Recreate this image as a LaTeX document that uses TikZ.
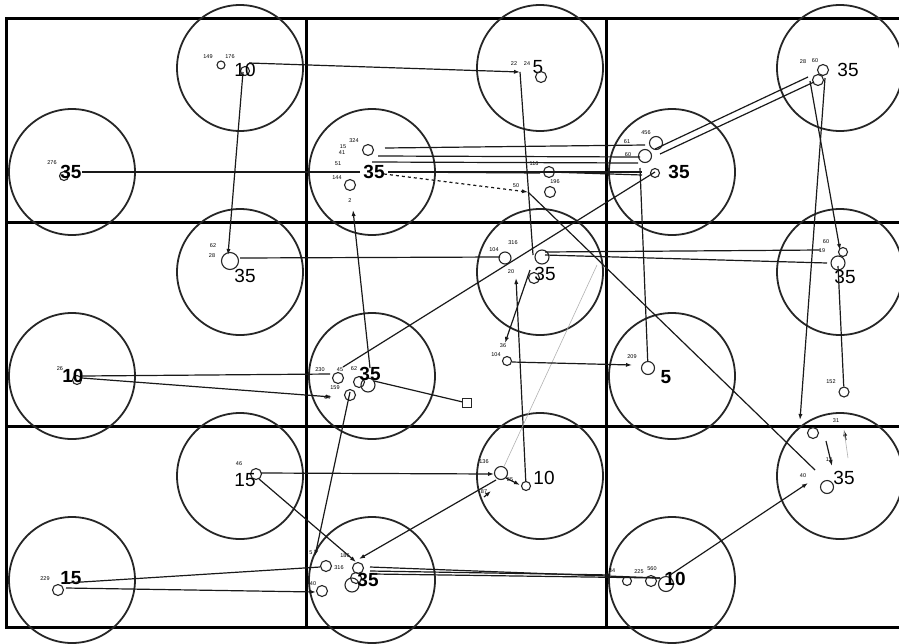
\documentclass[tikz,border=0pt]{standalone}
\usepackage{fontspec}
\setmainfont{Liberation Sans}
\usetikzlibrary{arrows.meta}
\begin{document}
\begin{tikzpicture}[x=1pt,y=-1pt,
  gridline/.style={line width=3pt},
  bigc/.style={circle,draw=black!85,line width=1.8pt,minimum size=126pt,inner sep=0pt},
  sc/.style={circle,draw=black!85,line width=1.1pt,minimum size=#1,inner sep=0pt},
  sc/.default=11pt,
  sq/.style={rectangle,draw=black!85,line width=1.1pt,minimum size=9pt,inner sep=0pt},
  lab/.style={font=\fontsize{19}{19}\selectfont,inner sep=0pt},
  blab/.style={font=\fontsize{19}{19}\selectfont\bfseries,inner sep=0pt},
  tiny/.style={font=\fontsize{5.5}{5.5}\selectfont,inner sep=0pt},
  conn/.style={line width=1.2pt,draw=black!90},
  arr/.style={conn,-{Latex[length=6pt,width=4.2pt]}},
  faint/.style={line width=0.6pt,draw=black!30}]
\useasboundingbox (0,0) rectangle (899,643);
\fill[white] (0,0) rectangle (899,643);

% grid
\draw[gridline] (906,18) -- (6,18) -- (6,627) -- (906,627);
\draw[gridline] (306,18) -- (306,627);
\draw[gridline] (606,18) -- (606,627);
\draw[gridline] (6,222) -- (906,222);
\draw[gridline] (6,426) -- (906,426);

% big circles
\foreach \c/\xx in {0/6,1/306,2/606}{
  \foreach \r/\yy in {0/18,1/222,2/426}{
    \node[bigc] (U\c\r) at (\xx+234,\yy+50) {};
    \node[bigc] (L\c\r) at (\xx+66,\yy+154) {};
  }
}

% ---------- cell (0,0)
\node[sc=8pt] (s00a) at (221,65) {};
\node[sc=9pt] (s00b) at (245,71) {};
\node[lab] (t00u) at (245,70) {10};
\node[tiny] (n00a) at (208,57) {149};
\node[tiny] (n00b) at (230,57) {176};
\coordinate (p00u) at (249,63);
\coordinate (p00d) at (243,72);
\node[sc=9pt] (s00c) at (64,176) {};
\node[blab] (t00l) at (71,172) {35};
\node[tiny] (n00c) at (52,163) {276};
\coordinate (p00l) at (82,172);

% ---------- cell (1,0)
\node[tiny] (n10a) at (514,64) {22};
\node[tiny] (n10b) at (527,64) {24};
\node[lab] (t10u) at (538,67) {5};
\node[sc=11pt] (s10a) at (541,77) {};
\coordinate (p10u) at (520,72);
\node[tiny] (n10c) at (354,141) {324};
\node[tiny] (n10d) at (343,147) {15};
\node[tiny] (n10e) at (342,153) {41};
\node[tiny] (n10f) at (338,164) {51};
\node[tiny] (n10g) at (337,178) {144};
\node[sc=11pt] (s10b) at (368,150) {};
\node[sc=11pt] (s10c) at (350,185) {};
\node[blab] (t10l) at (374,172) {35};
\coordinate (p10a) at (385,148);
\coordinate (p10b) at (378,156);
\coordinate (p10c) at (372,162);
\coordinate (p10d) at (388,172);
\coordinate (p10e) at (384,174);
\coordinate (p10l) at (360,172);
\node[tiny] (n10h) at (534,164) {116};
\coordinate (a116) at (540,173);
\node[sc=11pt] (s10d) at (549,172) {};
\node[tiny] (n10i) at (555,182) {196};
\node[sc=11pt] (s10e) at (550,192) {};
\node[tiny] (n10j) at (516,186) {50};
\coordinate (a50) at (528,192);
\node[tiny] (n10k) at (350,201) {2};
\coordinate (a2) at (353,210);

% ---------- cell (2,0)
\node[tiny] (n20a) at (803,62) {28};
\node[tiny] (n20b) at (815,61) {60};
\node[sc=11pt] (s20a) at (823,70) {};
\node[sc=11pt] (s20b) at (818,80) {};
\node[lab] (t20u) at (848,70) {35};
\coordinate (p20a) at (808,77);
\coordinate (p20b) at (814,82);
\coordinate (p20c) at (825,78);
\coordinate (p20d) at (810,81);
\node[tiny] (n20c) at (646,133) {456};
\node[tiny] (n20d) at (627,142) {61};
\node[tiny] (n20e) at (628,155) {60};
\node[sc=13pt] (s20c) at (656,143) {};
\node[sc=13pt] (s20d) at (645,156) {};
\node[sc=9pt] (s20e) at (655,173) {};
\node[blab] (t20l) at (679,172) {35};
\coordinate (p20e) at (645,145);
\coordinate (p20f) at (640,157);
\coordinate (p20g) at (638,163);
\coordinate (p20h) at (642,172);
\coordinate (p20i) at (642,175);
\coordinate (p20j) at (655,149);
\coordinate (p20k) at (660,154);
\coordinate (p20l) at (640,168);
\coordinate (p20m) at (655,172);

% ---------- cell (0,1)
\node[tiny] (n01a) at (213,246) {62};
\node[tiny] (n01b) at (212,256) {28};
\node[sc=17pt] (s01a) at (230,261) {};
\node[lab] (t01u) at (245,276) {35};
\coordinate (a01) at (228,255);
\coordinate (p01u) at (240,258);
\node[tiny] (n01c) at (60,369) {26};
\node[sc=9pt] (s01b) at (77,380) {};
\node[blab] (t01l) at (73,376) {10};
\coordinate (p01a) at (82,376);
\coordinate (p01b) at (82,378);

% ---------- cell (1,1)
\node[tiny] (n11a) at (513,243) {316};
\node[tiny] (n11b) at (494,250) {104};
\node[tiny] (n11c) at (511,272) {20};
\node[sc=12pt] (s11a) at (505,258) {};
\node[sc=14pt] (s11b) at (542,257) {};
\node[sc=11pt] (s11c) at (534,278) {};
\node[lab] (t11u) at (545,274) {35};
\coordinate (p11a) at (500,257);
\coordinate (p11b) at (545,252);
\coordinate (p11c) at (545,255);
\coordinate (p11d) at (533,255);
\coordinate (p11e) at (530,270);
\coordinate (a11u) at (516,278);
\coordinate (p11f) at (597,265);
\node[tiny] (n11d) at (503,346) {36};
\node[tiny] (n11e) at (496,355) {104};
\coordinate (a36) at (505,343);
\node[sc=9pt] (s11d) at (507,361) {};
\coordinate (p11g) at (512,362);
\node[tiny] (n11f) at (320,370) {230};
\node[tiny] (n11g) at (340,370) {45};
\node[tiny] (n11h) at (354,369) {62};
\node[tiny] (n11i) at (335,388) {159};
\node[sc=11pt] (s11e) at (338,378) {};
\node[sc=11pt] (s11f) at (359,382) {};
\node[sc=14pt] (s11g) at (368,385) {};
\node[sc=11pt] (s11h) at (350,395) {};
\node[blab] (t11l) at (370,374) {35};
\node[tiny] (n11j) at (327,398) {44};
\coordinate (a44) at (332,397);
\coordinate (p11h) at (330,374);
\coordinate (p11i) at (343,367);
\coordinate (p11j) at (370,368);
\coordinate (p11k) at (374,381);
\coordinate (p11l) at (350,392);
\node[sq] (sq11) at (467,403) {};

% ---------- cell (2,1)
\node[tiny] (n21a) at (826,242) {60};
\node[tiny] (n21b) at (822,251) {19};
\node[sc=9pt] (s21a) at (843,252) {};
\node[sc=14pt] (s21b) at (838,263) {};
\node[lab] (t21u) at (845,277) {35};
\coordinate (p21a) at (820,250);
\coordinate (p21b) at (827,263);
\coordinate (a21) at (840,250);
\coordinate (p21c) at (838,266);
\node[tiny] (n21c) at (831,382) {152};
\node[sc=10pt] (s21c) at (844,392) {};
\node[tiny] (n21d) at (632,357) {209};
\coordinate (a209) at (632,365);
\node[sc=13pt] (s21d) at (648,368) {};
\node[blab] (t21l) at (666,377) {5};
\coordinate (a21d) at (800,420);

% ---------- cell (0,2)
\node[tiny] (n02a) at (239,464) {46};
\node[sc=11pt] (s02a) at (256,474) {};
\node[lab] (t02u) at (245,480) {15};
\coordinate (p02a) at (261,473);
\coordinate (p02b) at (259,479);
\node[tiny] (n02b) at (45,579) {229};
\node[sc=11pt] (s02b) at (58,590) {};
\node[blab] (t02l) at (71,578) {15};
\coordinate (p02c) at (66,583);
\coordinate (p02d) at (66,588);

% ---------- cell (1,2)
\node[tiny] (n12a) at (484,462) {136};
\coordinate (a136) at (494,474);
\node[sc=13pt] (s12a) at (501,473) {};
\node[tiny] (n12b) at (510,480) {85};
\coordinate (p12a) at (506,478);
\coordinate (a85) at (520,485);
\node[sc=9pt] (s12b) at (526,486) {};
\node[lab] (t12u) at (544,478) {10};
\node[tiny] (n12c) at (484,492) {87};
\coordinate (p12b) at (496,480);
\coordinate (a87a) at (484,497);
\coordinate (a87b) at (491,491);
\node[tiny] (n12d) at (345,556) {186};
\coordinate (a186) at (359,559);
\node[tiny] (n12e) at (311,553) {5};
\coordinate (a5) at (315,556);
\node[sc=11pt] (s12c) at (326,566) {};
\node[tiny] (n12f) at (339,568) {316};
\node[tiny] (n12g) at (313,584) {40};
\coordinate (a40) at (316,592);
\node[sc=11pt] (s12d) at (322,591) {};
\node[sc=11pt] (s12e) at (358,568) {};
\node[sc=11pt] (s12f) at (356,578) {};
\node[sc=14pt] (s12g) at (352,585) {};
\node[blab] (t12l) at (368,580) {35};
\coordinate (a186b) at (356,562);
\coordinate (p12c) at (320,567);
\coordinate (p12d) at (370,567);
\coordinate (p12e) at (370,571);
\coordinate (p12f) at (374,574);

% ---------- cell (2,2)
\node[sc=11pt] (s22a) at (813,433) {};
\node[sc=13pt] (s22b) at (827,487) {};
\node[lab] (t22u) at (844,478) {35};
\node[tiny] (n22a) at (803,476) {40};
\coordinate (a22) at (808,483);
\node[tiny] (n22b) at (829,460) {13};
\coordinate (p22a) at (826,441);
\coordinate (a13) at (832,466);
\node[tiny] (n22c) at (836,421) {31};
\coordinate (p22b) at (846,440);
\coordinate (a31) at (844,430);
\coordinate (p22c) at (848,458);
\coordinate (p22d) at (815,470);
\node[tiny] (n22d) at (612,571) {84};
\coordinate (a84) at (612,575);
\node[sc=9pt] (s22c) at (627,581) {};
\node[tiny] (n22e) at (639,572) {225};
\node[tiny] (n22f) at (652,569) {560};
\node[sc=11pt] (s22d) at (651,581) {};
\node[sc=15pt] (s22e) at (666,584) {};
\node[blab] (t22l) at (675,579) {10};
\coordinate (p22e) at (660,578);
\coordinate (p22f) at (670,575);

% ---------- connectors
\draw[arr] (p00u) -- (p10u);
\draw[arr] (p00d) -- (a01);
\draw[conn] (p00l) -- (p10l);
\draw[conn] (p10a) -- (p20e);
\draw[conn] (p10b) -- (p20f);
\draw[conn] (p10c) -- (p20g);
\draw[conn] (p10d) -- (a116);
\draw[conn] (s10d) -- (p20i);
\draw[conn] (p10d) -- (p20h);
\draw[arr,dashed] (p10e) -- (a50);
\draw[conn] (a50) -- (p22d);
\draw[conn] (p20j) -- (p20a);
\draw[conn] (p20k) -- (p20b);
\draw[arr] (p20c) -- (a21d);
\draw[arr] (p20d) -- (a21);
\draw[conn] (p20l) -- (s21d);
\draw[conn] (p20m) -- (p11i);
\draw[conn] (p10u) -- (p11d);
\draw[arr] (s12b) -- (a11u);
\draw[faint] (p11f) -- (s12a);
\draw[conn] (p01u) -- (p11a);
\draw[conn] (p11b) -- (p21a);
\draw[conn] (p11c) -- (p21b);
\draw[conn] (p01a) -- (p11h);
\draw[arr] (p01b) -- (a44);
\draw[arr] (p11j) -- (a2);
\draw[conn] (p11k) -- (sq11);
\draw[arr] (p11l) -- (a5);
\draw[arr] (p11e) -- (a36);
\draw[arr] (p11g) -- (a209);
\draw[conn] (p21c) -- (s21c);
\draw[arr] (p02a) -- (a136);
\draw[arr] (p02b) -- (a186b);
\draw[conn] (p02c) -- (p12c);
\draw[arr] (p02d) -- (a40);
\draw[conn] (p12d) -- (p22e);
\draw[arr] (p12e) -- (a84);
\draw[conn] (p12f) -- (p22e);
\draw[arr] (p12b) -- (a186);
\draw[arr] (p12a) -- (a85);
\draw[arr] (a87a) -- (a87b);
\draw[arr] (p22f) -- (a22);
\draw[arr] (p22a) -- (a13);
\draw[arr] (p22b) -- (a31);
\draw[faint] (a31) -- (p22c);
\end{tikzpicture}
\end{document}
